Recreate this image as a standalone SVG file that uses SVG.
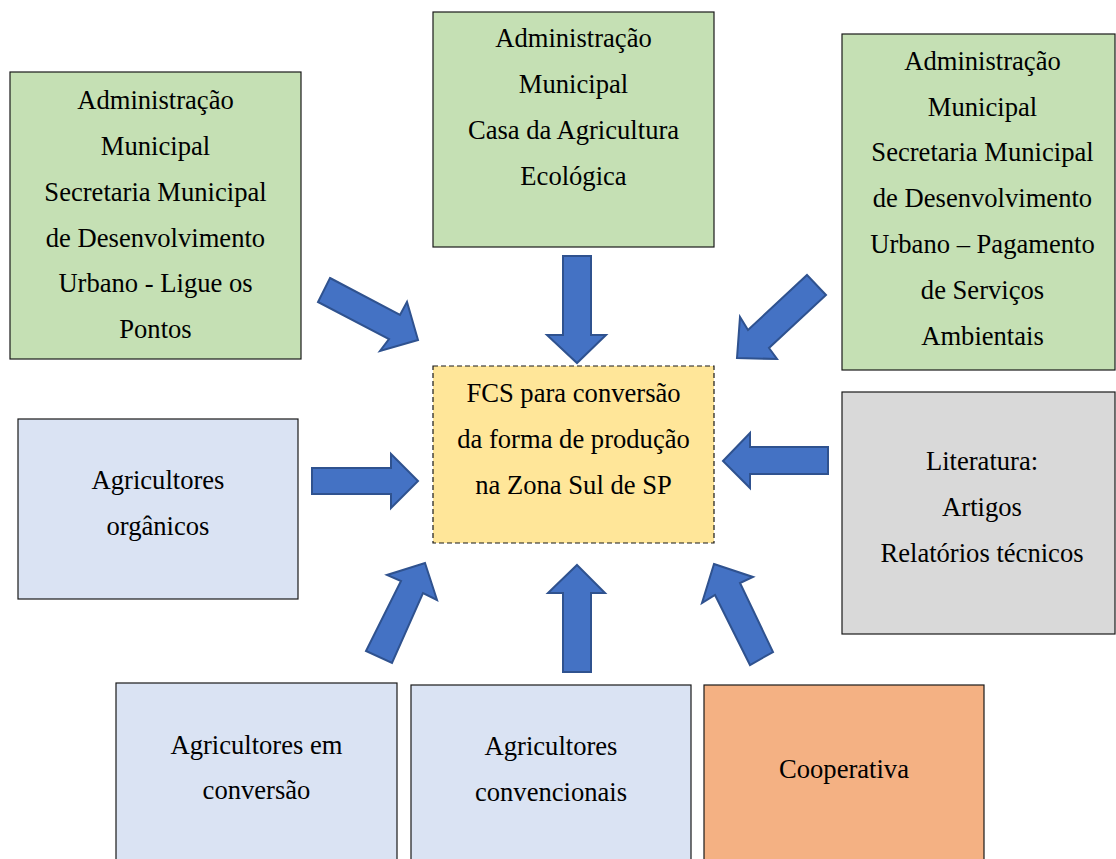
<svg xmlns="http://www.w3.org/2000/svg" width="1116" height="859" viewBox="0 0 1116 859">
<style>
.box{stroke:#1a1a1a;stroke-width:1.2}
.green{fill:#C5E0B4}
.blue{fill:#DAE3F3}
.gray{fill:#D9D9D9}
.orange{fill:#F4B183}
.yellow{fill:#FFE699;stroke:#1a1a1a;stroke-width:1.2;stroke-dasharray:5 3}
.arrow{fill:#4472C4;stroke:#2F528F;stroke-width:2;stroke-linejoin:miter}
</style>
<rect width="1116" height="859" fill="#fff"/>
<g id="n-left-green">
<rect class="box green" x="10" y="72" width="291" height="287"/>
<g font-size="26.6" text-anchor="middle" fill="#000">
<text style="font-family:'Liberation Serif',serif" x="155.5" y="109">Administração</text>
<text style="font-family:'Liberation Serif',serif" x="155.5" y="155">Municipal</text>
<text style="font-family:'Liberation Serif',serif" x="155.5" y="201">Secretaria Municipal</text>
<text style="font-family:'Liberation Serif',serif" x="155.5" y="247">de Desenvolvimento</text>
<text style="font-family:'Liberation Serif',serif" x="155.5" y="292">Urbano - Ligue os</text>
<text style="font-family:'Liberation Serif',serif" x="155.5" y="338">Pontos</text>
</g>
</g>
<g id="n-top-green">
<rect class="box green" x="433" y="12" width="281" height="235"/>
<g font-size="26.6" text-anchor="middle" fill="#000">
<text style="font-family:'Liberation Serif',serif" x="573.5" y="47">Administração</text>
<text style="font-family:'Liberation Serif',serif" x="573.5" y="93">Municipal</text>
<text style="font-family:'Liberation Serif',serif" x="573.5" y="139">Casa da Agricultura</text>
<text style="font-family:'Liberation Serif',serif" x="573.5" y="185">Ecológica</text>
</g>
</g>
<g id="n-right-green">
<rect class="box green" x="842" y="34" width="273" height="336"/>
<g font-size="26.6" text-anchor="middle" fill="#000">
<text style="font-family:'Liberation Serif',serif" x="982.5" y="70">Administração</text>
<text style="font-family:'Liberation Serif',serif" x="982.5" y="116">Municipal</text>
<text style="font-family:'Liberation Serif',serif" x="982.5" y="161">Secretaria Municipal</text>
<text style="font-family:'Liberation Serif',serif" x="982.5" y="207">de Desenvolvimento</text>
<text style="font-family:'Liberation Serif',serif" x="982.5" y="253">Urbano – Pagamento</text>
<text style="font-family:'Liberation Serif',serif" x="982.5" y="299">de Serviços</text>
<text style="font-family:'Liberation Serif',serif" x="982.5" y="345">Ambientais</text>
</g>
</g>
<g id="n-center">
<rect class="yellow" x="433" y="366" width="281" height="177"/>
<g font-size="26.6" text-anchor="middle" fill="#000">
<text style="font-family:'Liberation Serif',serif" x="573.5" y="402">FCS para conversão</text>
<text style="font-family:'Liberation Serif',serif" x="573.5" y="448">da forma de produção</text>
<text style="font-family:'Liberation Serif',serif" x="573.5" y="494">na Zona Sul de SP</text>
</g>
</g>
<g id="n-organicos">
<rect class="box blue" x="18" y="419" width="280" height="180"/>
<g font-size="26.6" text-anchor="middle" fill="#000">
<text style="font-family:'Liberation Serif',serif" x="158" y="489">Agricultores</text>
<text style="font-family:'Liberation Serif',serif" x="158" y="535">orgânicos</text>
</g>
</g>
<g id="n-literatura">
<rect class="box gray" x="842" y="392" width="273" height="242"/>
<g font-size="26.6" text-anchor="middle" fill="#000">
<text style="font-family:'Liberation Serif',serif" x="982" y="470">Literatura:</text>
<text style="font-family:'Liberation Serif',serif" x="982" y="516">Artigos</text>
<text style="font-family:'Liberation Serif',serif" x="982" y="562">Relatórios técnicos</text>
</g>
</g>
<g id="n-conversao">
<rect class="box blue" x="116" y="683" width="281" height="190"/>
<g font-size="26.6" text-anchor="middle" fill="#000">
<text style="font-family:'Liberation Serif',serif" x="256.5" y="754">Agricultores em</text>
<text style="font-family:'Liberation Serif',serif" x="256.5" y="799">conversão</text>
</g>
</g>
<g id="n-convencionais">
<rect class="box blue" x="411" y="685" width="280" height="190"/>
<g font-size="26.6" text-anchor="middle" fill="#000">
<text style="font-family:'Liberation Serif',serif" x="551" y="755">Agricultores</text>
<text style="font-family:'Liberation Serif',serif" x="551" y="801">convencionais</text>
</g>
</g>
<g id="n-cooperativa">
<rect class="box orange" x="704" y="685" width="280" height="190"/>
<g font-size="26.6" text-anchor="middle" fill="#000">
<text style="font-family:'Liberation Serif',serif" x="844" y="778">Cooperativa</text>
</g>
</g>
<g id="connectors">
<polygon class="arrow" points="330,278 400,315 407,302 418,340 380,351 389,339 318,302"/>
<polygon class="arrow" points="563,256 591,256 591,335 606,335 577,363 547,335 563,335"/>
<polygon class="arrow" points="807,275 826,295 769,348 777,359 737,358 740,317 748,330"/>
<polygon class="arrow" points="312,468 391,468 391,454 418,481 391,508 391,494 312,494"/>
<polygon class="arrow" points="723,461 750,433 750,447 828,447 828,474 750,474 750,488"/>
<polygon class="arrow" points="425,563 437,600 423,593 392,663 366,651 401,581 387,575"/>
<polygon class="arrow" points="577,565 605,593 591,593 591,672 563,672 563,593 548,593"/>
<polygon class="arrow" points="714,564 753,577 740,583 773,652 750,665 715,595 702,603"/>
</g>
</svg>
